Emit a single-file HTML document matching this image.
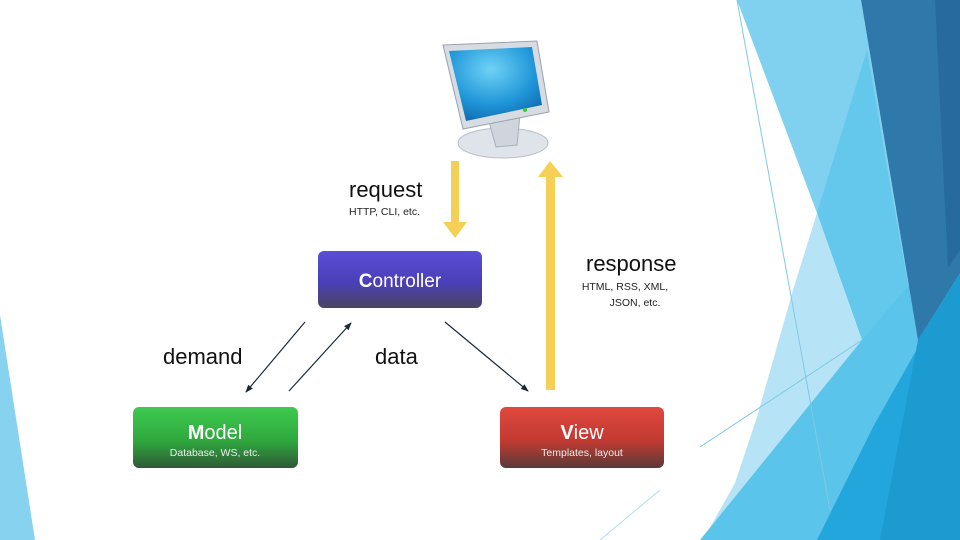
<!DOCTYPE html>
<html><head><meta charset="utf-8"><style>
html,body{margin:0;padding:0;background:#fff;}
svg{display:block}
text{font-family:"Liberation Sans",sans-serif}
</style></head><body>
<svg width="960" height="540" viewBox="0 0 960 540" xmlns="http://www.w3.org/2000/svg">
<defs>
<linearGradient id="gc" x1="0" y1="0" x2="0" y2="1"><stop offset="0" stop-color="#5a4fd6"/><stop offset="0.55" stop-color="#4a3fb8"/><stop offset="1" stop-color="#4a4560"/></linearGradient>
<linearGradient id="gm" x1="0" y1="0" x2="0" y2="1"><stop offset="0" stop-color="#3fc94f"/><stop offset="0.55" stop-color="#2fa83e"/><stop offset="1" stop-color="#2f5a38"/></linearGradient>
<linearGradient id="gv" x1="0" y1="0" x2="0" y2="1"><stop offset="0" stop-color="#e0483e"/><stop offset="0.55" stop-color="#c23a32"/><stop offset="1" stop-color="#5a3a38"/></linearGradient>
<radialGradient id="gs" cx="0.45" cy="0.3" r="0.8"><stop offset="0" stop-color="#6fd2f6"/><stop offset="0.6" stop-color="#1f95d8"/><stop offset="1" stop-color="#0f62a8"/></radialGradient>
<marker id="ah" markerWidth="8" markerHeight="8" refX="7" refY="4" orient="auto" markerUnits="userSpaceOnUse"><path d="M0,1 L8,4 L0,7 z" fill="#1a2a3a"/></marker>
</defs>
<!-- background decoration -->
<polygon points="0,315 35,540 0,540" fill="#87d3ef"/>
<polygon points="737,0 861,0 918,340 862,340 817,213" fill="#80d0ef"/>
<polygon points="867,50 887,167 918,340 862,340 817,213" fill="#64c7ec"/>
<polygon points="817,213 862,340 703,540 735,483 757,417 793,290" fill="#b6e4f6"/>
<polygon points="862,340 960,225 960,540 700,540" fill="#5bc4ea"/>
<polygon points="861,0 960,0 960,273 918,340" fill="#2f78aa"/>
<polygon points="935,0 960,0 960,250 948,268" fill="#266a9e"/>
<polygon points="960,273 873,427 817,540 960,540" fill="#22a6dc"/>
<polygon points="918,340 960,273 960,540 880,540" fill="#1c9bd0"/>
<line x1="737" y1="0" x2="830" y2="510" stroke="#7fc8e6" stroke-width="1"/>
<line x1="700" y1="447" x2="862" y2="340" stroke="#7fc8e6" stroke-width="1"/>
<line x1="600" y1="540" x2="660" y2="490" stroke="#b0dcef" stroke-width="1"/>

<!-- monitor -->
<ellipse cx="503" cy="143" rx="45" ry="15" fill="#dfe3ea" stroke="#b9bfcb"/>
<path d="M488,118 L520,115 L517,145 L496,147 z" fill="#cfd4dd" stroke="#a9b0bc"/>
<path d="M443,45 L537,41 L549,112 L463,129 z" fill="#d7dbe2" stroke="#9aa2ae"/>
<path d="M449,51 L532,47 L542,105 L466,121 z" fill="url(#gs)"/>
<circle cx="525" cy="110" r="2" fill="#3c3"/>

<!-- yellow arrows -->
<rect x="451" y="161" width="8" height="62" fill="#f6cf55"/>
<polygon points="443,222 467,222 455,238" fill="#f6cf55"/>
<rect x="546" y="176" width="9" height="214" fill="#f6cf55"/>
<polygon points="538,177 563,177 550,161" fill="#f6cf55"/>

<text x="349" y="197" font-size="22" fill="#111">request</text>
<text x="349" y="215" font-size="10.5" fill="#222">HTTP, CLI, etc.</text>
<text x="586" y="271" font-size="22" fill="#111">response</text>
<text x="625" y="290" font-size="10.5" fill="#222" text-anchor="middle">HTML, RSS, XML,</text>
<text x="635" y="306" font-size="10.5" fill="#222" text-anchor="middle">JSON, etc.</text>

<!-- boxes -->
<rect x="318" y="251" width="164" height="57" rx="6" fill="url(#gc)"/>
<text x="400" y="287" font-size="19" fill="#fff" text-anchor="middle"><tspan font-weight="bold">C</tspan>ontroller</text>
<rect x="133" y="407" width="165" height="61" rx="6" fill="url(#gm)"/>
<text x="215" y="439" font-size="20" fill="#fff" text-anchor="middle"><tspan font-weight="bold">M</tspan>odel</text>
<text x="215" y="456" font-size="10.5" fill="#eee" text-anchor="middle">Database, WS, etc.</text>
<rect x="500" y="407" width="164" height="61" rx="6" fill="url(#gv)"/>
<text x="582" y="439" font-size="20" fill="#fff" text-anchor="middle"><tspan font-weight="bold">V</tspan>iew</text>
<text x="582" y="456" font-size="10.5" fill="#eee" text-anchor="middle">Templates, layout</text>

<!-- connectors -->
<line x1="305" y1="322" x2="246" y2="392" stroke="#1a2a3a" stroke-width="1.2" marker-end="url(#ah)"/>
<line x1="289" y1="391" x2="351" y2="323" stroke="#1a2a3a" stroke-width="1.2" marker-end="url(#ah)"/>
<line x1="445" y1="322" x2="528" y2="391" stroke="#1a2a3a" stroke-width="1.2" marker-end="url(#ah)"/>
<text x="163" y="364" font-size="22" fill="#111">demand</text>
<text x="375" y="364" font-size="22" fill="#111">data</text>
</svg>
</body></html>
